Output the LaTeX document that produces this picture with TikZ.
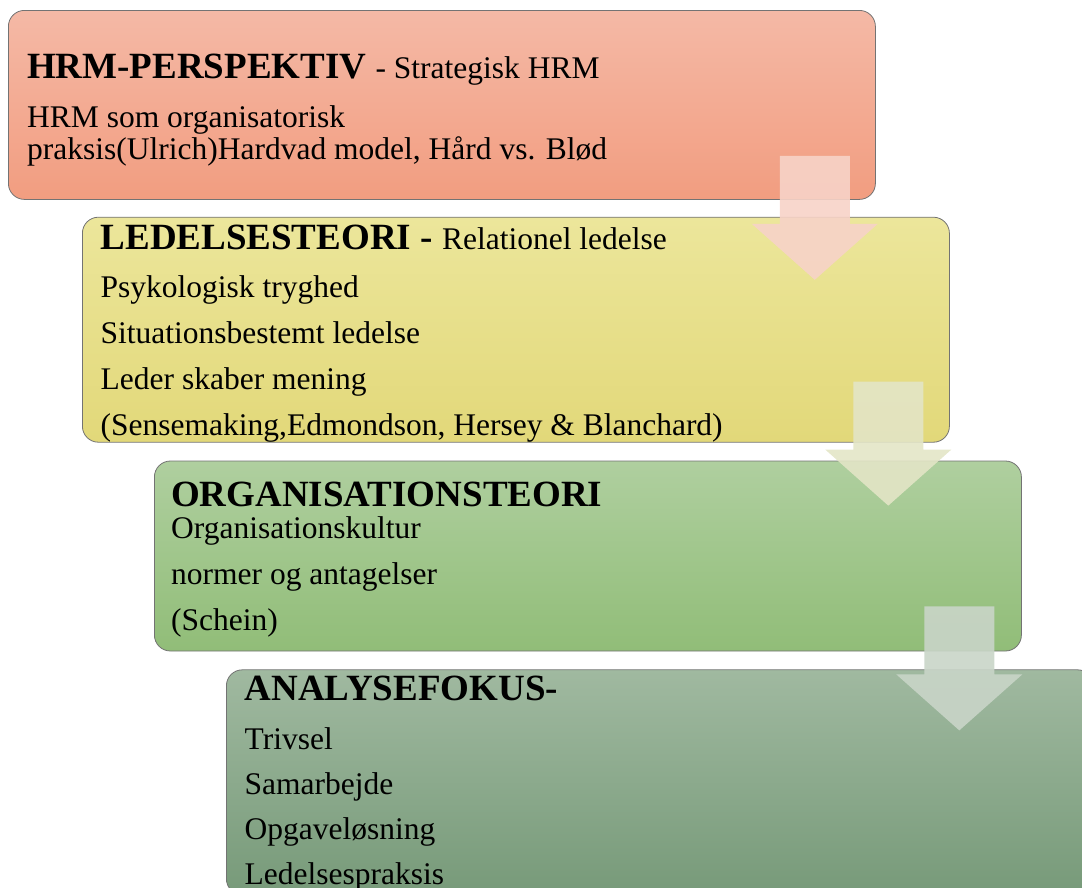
\documentclass[tikz,border=0pt]{standalone}
\usepackage{fontspec}
\setmainfont{Liberation Serif}
\usepackage{tikz}

\definecolor{hrmtop}{HTML}{F4B9A6}
\definecolor{hrmbot}{HTML}{F29D80}
\definecolor{ledtop}{HTML}{ECE69B}
\definecolor{ledbot}{HTML}{E2D879}
\definecolor{orgtop}{HTML}{AFCF9F}
\definecolor{orgbot}{HTML}{91BD78}
\definecolor{anatop}{HTML}{A0B9A0}
\definecolor{anabot}{HTML}{779A79}
\definecolor{hrmarrow}{HTML}{F7D3C8}
\definecolor{ledarrow}{HTML}{E3E5C6}
\definecolor{orgarrow}{HTML}{C9D5C8}

\begin{document}
\begin{tikzpicture}[
    x=1pt, y=1pt,
    stage/.style={draw=black!55, line width=0.8pt, rounded corners=16pt, minimum width=867pt, inner sep=0pt, anchor=north west},
    hrmbox/.style={stage, minimum height=189pt, top color=hrmtop, bottom color=hrmbot},
    ledbox/.style={stage, minimum height=225pt, top color=ledtop, bottom color=ledbot},
    orgbox/.style={stage, minimum height=190pt, top color=orgtop, bottom color=orgbot},
    anabox/.style={stage, minimum height=225pt, top color=anatop, bottom color=anabot},
    head/.style={anchor=base west, inner sep=0pt, font=\fontsize{37}{44}\selectfont\bfseries},
    item/.style={anchor=base west, inner sep=0pt, font=\fontsize{31.5}{38}\selectfont},
    stepdown/.pic={
        \fill (-35,0) -- (35,0) -- (35,-68) -- (63,-68) -- (0,-124) -- (-63,-68) -- (-35,-68) -- cycle;
    }
]
\useasboundingbox (0,0) rectangle (1082,-887);
\clip (0,0) rectangle (1082,-887);

% the four steps
\node[hrmbox] (hrm) at (8,-10) {};
\node[ledbox] (led) at ([xshift=74pt, yshift=-17pt]hrm.south west) {};
\node[orgbox] (org) at ([xshift=72pt, yshift=-18pt]led.south west) {};
\node[anabox] (ana) at ([xshift=72pt, yshift=-18pt]org.south west) {};

% headings
\node[head] (hrmhead) at ([shift={(19,-68)}]hrm.north west) {HRM-PERSPEKTIV {\fontsize{31.5}{38}\selectfont\mdseries - Strategisk HRM}};
\node[head] (ledhead) at ([shift={(18.5,-33)}]led.north west) {LEDELSESTEORI - {\fontsize{31.5}{38}\selectfont\mdseries Relationel ledelse}};
\node[head] (orghead) at ([shift={(17,-46)}]org.north west) {ORGANISATIONSTEORI};
\node[head] (anahead) at ([shift={(18.5,-31)}]ana.north west) {ANALYSEFOKUS-};

% lines below each heading
\foreach \entry [count=\i] in {HRM som organisatorisk, {praksis(Ulrich)Hardvad model, Hård vs. Blød}}
    \node[item] (hrm\i) at ([shift={(19,-85-32*\i)}]hrm.north west) {\entry};
\foreach \entry [count=\i] in {Psykologisk tryghed, Situationsbestemt ledelse, Leder skaber mening, {(Sensemaking,Edmondson, Hersey \& Blanchard)}}
    \node[item] (led\i) at ([shift={(18.5,-35-46*\i)}]led.north west) {\entry};
\foreach \entry [count=\i] in {Organisationskultur, normer og antagelser, (Schein)}
    \node[item] (org\i) at ([shift={(17,-32-46*\i)}]org.north west) {\entry};
\foreach \entry [count=\i] in {Trivsel, Samarbejde, Opgaveløsning, Ledelsespraksis}
    \node[item] (ana\i) at ([shift={(18.5,-35-45*\i)}]ana.north west) {\entry};

% arrows from one step down to the next
\pic[fill=hrmarrow, fill opacity=0.9] at ([shift={(-61,44)}]hrm.south east) {stepdown};
\pic[fill=ledarrow, fill opacity=0.9] at ([shift={(-61.5,61)}]led.south east) {stepdown};
\pic[fill=orgarrow, fill opacity=0.9] at ([shift={(-62.5,45)}]org.south east) {stepdown};
\end{tikzpicture}
\end{document}
